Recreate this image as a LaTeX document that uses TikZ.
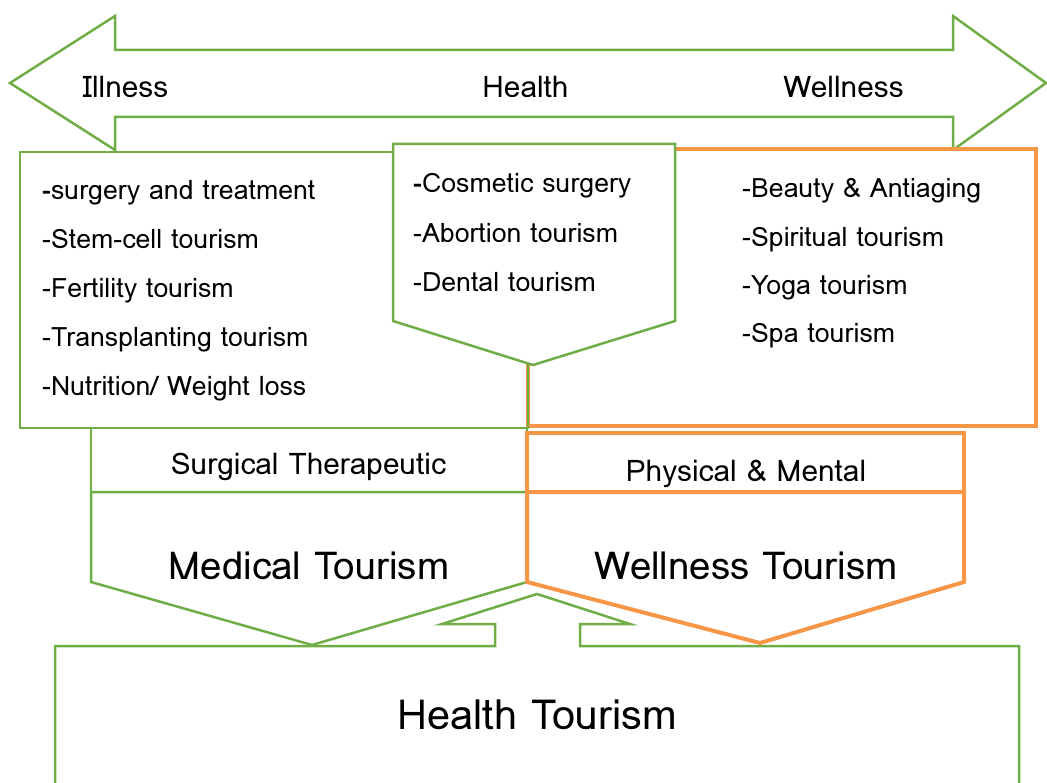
\documentclass[tikz,border=0pt]{standalone}
\usepackage{fontspec}
\setmainfont{Loma}
\definecolor{grn}{HTML}{70AD47}
\definecolor{org}{HTML}{F79646}
\begin{document}
\begin{tikzpicture}[x=1pt,y=-1pt,
  gline/.style={draw=grn,line width=2.5pt,fill=white,line join=miter},
  oline/.style={draw=org,line width=4pt,fill=white,line join=miter},
  item/.style={anchor=base west,inner sep=0pt,font=\fontsize{26.7}{28}\selectfont},
  lab/.style={anchor=base,inner sep=0pt,font=\fontsize{29.8}{32}\selectfont},
  big/.style={anchor=base,inner sep=0pt,font=\fontsize{38.5}{40}\selectfont}]
\useasboundingbox (0,0) rectangle (1047,783);
% top double arrow
\draw[gline] (10,83) -- (115,16) -- (115,50) -- (953,50) -- (953,16) -- (1046,83)
  -- (953,150) -- (953,117) -- (115,117) -- (115,150) -- cycle;
% right orange box
\draw[oline] (528,149) rectangle (1036,426);
% left green box
\draw[gline,fill=none] (20,152) rectangle (528,428);
% middle pentagon
\draw[gline] (393,144) -- (675,144) -- (675,321) -- (533,365) -- (393,321) -- cycle;
% health tourism shape
\draw[gline] (55,790) -- (55,646) -- (495,646) -- (495,624) -- (442,624) -- (537,594)
  -- (630,624) -- (580,624) -- (580,646) -- (1019,646) -- (1019,790);
% medical
\draw[gline] (91,428) rectangle (527,492);
\draw[gline] (91,492) -- (527,492) -- (527,582) -- (312,645) -- (91,582) -- cycle;
% wellness
\draw[oline] (527,433) rectangle (964,492);
\draw[oline] (527,492) -- (964,492) -- (964,582) -- (760,643) -- (527,582) -- cycle;
% labels
\node[lab] (ill) at (125.5,98) {Illness};
\node[lab] (hea) at (525.5,98) {Health};
\node[lab] (wel) at (843.5,98) {Wellness};
\node[item] (l1) at (42,200) {\textbf{-}surgery and treatment};
\node[item] (l2) at (42,249) {-Stem-cell tourism};
\node[item] (l3) at (42,298) {-Fertility tourism};
\node[item] (l4) at (42,347) {-Transplanting tourism};
\node[item] (l5) at (42,396) {-Nutrition/ Weight loss};
\node[item] (m1) at (413,193) {\textbf{-}Cosmetic surgery};
\node[item] (m2) at (413,243) {-Abortion tourism};
\node[item] (m3) at (413,292) {-Dental tourism};
\node[item] (r1) at (742,198) {-Beauty \& Antiaging};
\node[item] (r2) at (742,247) {-Spiritual tourism};
\node[item] (r3) at (742,295) {-Yoga tourism};
\node[item] (r4) at (742,343) {-Spa tourism};
\node[lab] (st) at (308.5,475) {Surgical Therapeutic};
\node[lab] (pm) at (746,481) {Physical \& Mental};
\node[big] (mt) at (309,579) {Medical Tourism};
\node[big] (wt) at (746,579) {Wellness Tourism};
\node[big,font=\fontsize{41.5}{44}\selectfont] (ht) at (537,729) {Health Tourism};
\end{tikzpicture}
\end{document}
